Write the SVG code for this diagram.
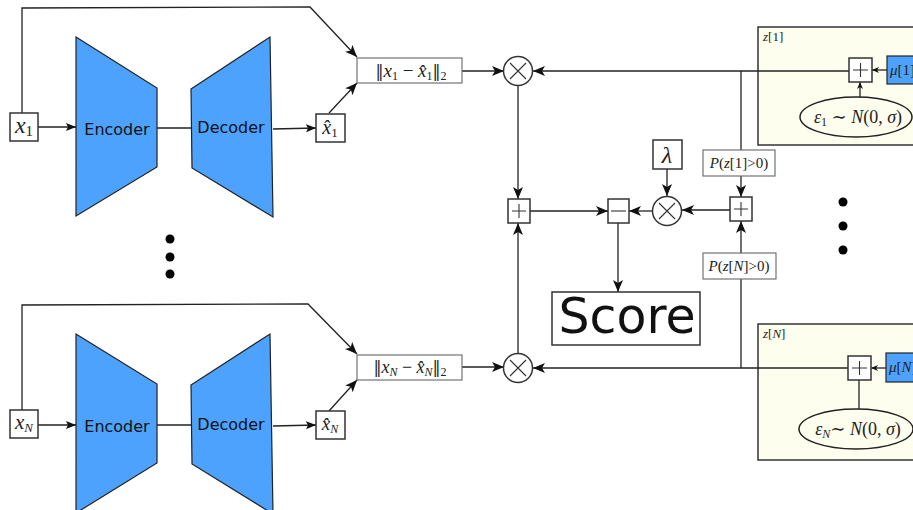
<svg xmlns="http://www.w3.org/2000/svg" width="913" height="510" viewBox="0 0 913 510">
  <style>
    .ln { fill: none; stroke: #222; stroke-width: 1.3; }
    .box { fill: #fff; stroke: #333; stroke-width: 1.5; }
    .lbl { fill: #fff; stroke: #666; stroke-width: 1.1; }
    .net { fill: #4da2fd; stroke: #222; stroke-width: 1.2; }
    .zone { fill: #fefeee; stroke: #333; stroke-width: 1.5; }
    .sans { font-family: "DejaVu Sans", Verdana, sans-serif; fill: #111; }
    .m { font-family: "Liberation Serif", "DejaVu Serif", serif; fill: #222; }
    .i { font-style: italic; }
    .bar { font-family: "DejaVu Serif", serif; font-style: normal; }
    .op { fill: none; stroke: #333; stroke-width: 1.1; }
  </style>
  <defs>
    <marker id="big" markerUnits="userSpaceOnUse" markerWidth="14" markerHeight="12" refX="12" refY="5" orient="auto">
      <path d="M0,0 L12,5 L0,10 L3,5 z" fill="#111"/>
    </marker>
    <marker id="mid" markerUnits="userSpaceOnUse" markerWidth="12" markerHeight="10" refX="10" refY="4" orient="auto">
      <path d="M0,0 L10,4 L0,8 L2,4 z" fill="#111"/>
    </marker>
    <marker id="sm" markerUnits="userSpaceOnUse" markerWidth="9" markerHeight="8" refX="7" refY="3" orient="auto">
      <path d="M0,0 L7,3 L0,6 L2,3 z" fill="#111"/>
    </marker>
  </defs>

  <!-- latent sample regions (drawn first, partially off the right edge) -->
  <g id="z1">
    <rect class="zone" x="758" y="27" width="170" height="118"/>
    <text class="m" x="763" y="41" font-size="13"><tspan class="i">z</tspan>[1]</text>
  </g>
  <g id="zN">
    <rect class="zone" x="758" y="324" width="170" height="136"/>
    <text class="m" x="763" y="338" font-size="13"><tspan class="i">z</tspan>[<tspan class="i">N</tspan>]</text>
  </g>

  <!-- connectors -->
  <g id="connectors">
    <!-- branch 1 -->
    <path class="ln" d="M22,113 V8 L310,7 L357,57" marker-end="url(#big)"/>
    <path class="ln" d="M38,127 H76" marker-end="url(#mid)"/>
    <path class="ln" d="M157,128 H191"/>
    <path class="ln" d="M273,129 L316,128" marker-end="url(#mid)"/>
    <path class="ln" d="M329,113 L357,83" marker-end="url(#big)"/>
    <path class="ln" d="M462,71 H504" marker-end="url(#big)"/>
    <path class="ln" d="M849,71 H533" marker-end="url(#big)"/>
    <path class="ln" d="M518,85 V199" marker-end="url(#big)"/>
    <!-- branch N -->
    <path class="ln" d="M22,410 V305 L308,304 L357,354" marker-end="url(#big)"/>
    <path class="ln" d="M38,425 H76" marker-end="url(#mid)"/>
    <path class="ln" d="M157,425 H191"/>
    <path class="ln" d="M273,426 L316,425" marker-end="url(#mid)"/>
    <path class="ln" d="M329,411 L357,380" marker-end="url(#big)"/>
    <path class="ln" d="M462,367 H504" marker-end="url(#big)"/>
    <path class="ln" d="M848,368 H533" marker-end="url(#big)"/>
    <path class="ln" d="M518,354 V223" marker-end="url(#big)"/>
    <!-- aggregation -->
    <path class="ln" d="M530,211 H608" marker-end="url(#big)"/>
    <path class="ln" d="M653,211 H629" marker-end="url(#big)"/>
    <path class="ln" d="M667,169 V196" marker-end="url(#big)"/>
    <path class="ln" d="M730,210 H682" marker-end="url(#big)"/>
    <path class="ln" d="M618,223 V292" marker-end="url(#big)"/>
    <path class="ln" d="M741,71 V150"/>
    <path class="ln" d="M741,176 V197" marker-end="url(#big)"/>
    <path class="ln" d="M741,368 V279"/>
    <path class="ln" d="M741,253 V221" marker-end="url(#big)"/>
    <!-- sampling -->
    <path class="ln" d="M887,70 H872" marker-end="url(#sm)"/>
    <path class="ln" d="M860,97 V82" marker-end="url(#sm)"/>
    <path class="ln" d="M886,368 H871" marker-end="url(#sm)"/>
    <path class="ln" d="M859,409 V380"/>
  </g>

  <!-- branch 1 nodes -->
  <g id="x1">
    <rect class="box" x="10" y="113" width="28" height="28"/>
    <text class="m" x="24" y="133" text-anchor="middle" font-size="24"><tspan class="i">x</tspan><tspan font-size="15" dy="3">1</tspan></text>
  </g>
  <g id="enc1">
    <polygon class="net" points="76,37 157,88 157,167 76,216"/>
    <text class="sans" x="117" y="135" text-anchor="middle" font-size="16">Encoder</text>
  </g>
  <g id="dec1">
    <polygon class="net" points="191,89 270,37 273,217 192,168"/>
    <text class="sans" x="231" y="133" text-anchor="middle" font-size="16">Decoder</text>
  </g>
  <g id="xhat1">
    <rect class="box" x="316" y="114" width="29" height="28"/>
    <text class="m" x="330" y="134" text-anchor="middle" font-size="20"><tspan class="i">x̂</tspan><tspan font-size="13" dy="3">1</tspan></text>
  </g>
  <g id="norm1">
    <rect class="lbl" x="357" y="58" width="105" height="25"/>
    <text class="m" x="411" y="77" text-anchor="middle" font-size="19"><tspan class="bar" font-size="16">‖</tspan><tspan class="i">x</tspan><tspan font-size="12" dy="3">1</tspan><tspan dy="-3"> − </tspan><tspan class="i">x̂</tspan><tspan font-size="12" dy="3">1</tspan><tspan class="bar" font-size="16" dy="-3">‖</tspan><tspan font-size="12" dy="3">2</tspan></text>
  </g>
  <g id="mul1">
    <circle class="box" cx="518" cy="71" r="14.5" stroke-width="1.2"/>
    <path class="op" d="M510,63 L526,79 M526,63 L510,79"/>
  </g>

  <!-- branch N nodes -->
  <g id="xN">
    <rect class="box" x="10" y="410" width="28" height="28"/>
    <text class="m" x="24" y="429" text-anchor="middle" font-size="21"><tspan class="i">x</tspan><tspan class="i" font-size="13" dy="3">N</tspan></text>
  </g>
  <g id="encN">
    <polygon class="net" points="76,334 157,384 157,463 76,513"/>
    <text class="sans" x="117" y="432" text-anchor="middle" font-size="16">Encoder</text>
  </g>
  <g id="decN">
    <polygon class="net" points="191,385 270,334 273,514 192,464"/>
    <text class="sans" x="231" y="430" text-anchor="middle" font-size="16">Decoder</text>
  </g>
  <g id="xhatN">
    <rect class="box" x="316" y="411" width="29" height="28"/>
    <text class="m" x="330" y="430" text-anchor="middle" font-size="19"><tspan class="i">x̂</tspan><tspan class="i" font-size="12" dy="3">N</tspan></text>
  </g>
  <g id="normN">
    <rect class="lbl" x="357" y="355" width="105" height="25"/>
    <text class="m" x="410" y="373" text-anchor="middle" font-size="18"><tspan class="bar" font-size="16">‖</tspan><tspan class="i">x</tspan><tspan class="i" font-size="12" dy="3">N</tspan><tspan dy="-3"> − </tspan><tspan class="i">x̂</tspan><tspan class="i" font-size="12" dy="3">N</tspan><tspan class="bar" font-size="16" dy="-3">‖</tspan><tspan font-size="12" dy="3">2</tspan></text>
  </g>
  <g id="mulN">
    <circle class="box" cx="518" cy="368" r="14.5" stroke-width="1.2"/>
    <path class="op" d="M510,360 L526,376 M526,360 L510,376"/>
  </g>

  <!-- aggregation nodes -->
  <g id="sumRec">
    <rect class="box" x="508" y="199" width="22" height="24"/>
    <path class="op" d="M512,211 H526 M519,204 V218"/>
  </g>
  <g id="minus">
    <rect class="box" x="608" y="199" width="21" height="24"/>
    <path class="op" d="M611,211 H626"/>
  </g>
  <g id="lambda">
    <rect class="box" x="653" y="140" width="29" height="29"/>
    <text class="m i" x="667" y="163" text-anchor="middle" font-size="24">λ</text>
  </g>
  <g id="mulLambda">
    <circle class="box" cx="667" cy="211" r="14.5" stroke-width="1.2"/>
    <path class="op" d="M659,203 L675,219 M675,203 L659,219"/>
  </g>
  <g id="sumProb">
    <rect class="box" x="730" y="197" width="22" height="24"/>
    <path class="op" d="M734,209 H748 M741,202 V216"/>
  </g>
  <g id="p1">
    <rect class="lbl" x="703" y="150" width="72" height="26"/>
    <text class="m" x="739" y="168" text-anchor="middle" font-size="15"><tspan class="i">P</tspan>(<tspan class="i">z</tspan>[1]&gt;0)</text>
  </g>
  <g id="pN">
    <rect class="lbl" x="703" y="253" width="73" height="26"/>
    <text class="m" x="739" y="271" text-anchor="middle" font-size="15"><tspan class="i">P</tspan>(<tspan class="i">z</tspan>[<tspan class="i">N</tspan>]&gt;0)</text>
  </g>
  <g id="score">
    <rect class="box" x="552" y="292" width="148" height="53" stroke-width="2"/>
    <text class="sans" x="627" y="333" text-anchor="middle" font-size="49">Score</text>
  </g>

  <!-- sampling nodes -->
  <g id="add1">
    <rect class="box" x="849" y="58" width="23" height="24"/>
    <path class="op" d="M853,70 H868 M860.5,63 V77"/>
  </g>
  <g id="mu1">
    <rect class="net" x="887" y="56" width="40" height="28" stroke-width="1.5"/>
    <text class="m" x="890" y="75" font-size="15"><tspan class="i">μ</tspan>[1]</text>
  </g>
  <g id="eps1">
    <ellipse cx="856" cy="117" rx="56" ry="20" fill="#fefeee" stroke="#222" stroke-width="1.5"/>
    <text class="m" x="858" y="123" text-anchor="middle" font-size="18"><tspan class="i">ε</tspan><tspan font-size="12" dy="3">1</tspan><tspan dy="-3"> ∼ </tspan><tspan class="i">N</tspan>(0, <tspan class="i">σ</tspan>)</text>
  </g>
  <g id="addN">
    <rect class="box" x="848" y="356" width="23" height="24"/>
    <path class="op" d="M852,368 H867 M859.5,361 V375"/>
  </g>
  <g id="muN">
    <rect class="net" x="886" y="353" width="40" height="29" stroke-width="1.5"/>
    <text class="m" x="889" y="372" font-size="15"><tspan class="i">μ</tspan>[<tspan class="i">N</tspan>]</text>
  </g>
  <g id="epsN">
    <ellipse cx="856" cy="429" rx="57" ry="20" fill="#fefeee" stroke="#222" stroke-width="1.5"/>
    <text class="m" x="858" y="435" text-anchor="middle" font-size="18"><tspan class="i">ε</tspan><tspan class="i" font-size="12" dy="3">N</tspan><tspan dy="-3">∼ </tspan><tspan class="i">N</tspan>(0, <tspan class="i">σ</tspan>)</text>
  </g>

  <!-- ellipsis dots -->
  <g id="dotsLeft" fill="#000">
    <circle cx="170" cy="239" r="4.5"/>
    <circle cx="170" cy="257" r="4.5"/>
    <circle cx="170" cy="274" r="4.5"/>
  </g>
  <g id="dotsRight" fill="#000">
    <circle cx="843" cy="202" r="4.5"/>
    <circle cx="843" cy="226" r="4.5"/>
    <circle cx="843" cy="250" r="4.5"/>
  </g>
</svg>
